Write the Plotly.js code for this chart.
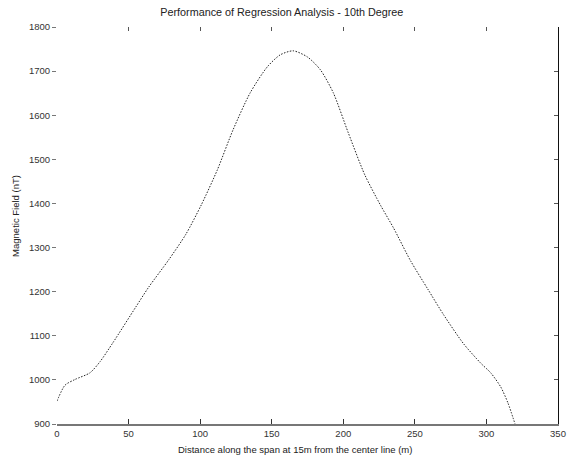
<!DOCTYPE html>
<html>
<head>
<meta charset="utf-8">
<script src="https://cdn.plot.ly/plotly-3.0.1.min.js"></script>
<style>html,body{margin:0;padding:0;background:#fff;}#chart{width:567px;height:456px;}</style>
</head>
<body>
<div id="chart"></div>
<script>
const distance = [0, 5.6, 12.6, 23, 30, 39, 55, 64, 78, 90, 101, 112, 123, 135, 147, 156, 165, 175, 184, 193, 203.5, 215, 226, 235, 247, 259, 270, 284, 296, 303, 310, 315, 320];
const field = [952, 988, 1001, 1016, 1041, 1084, 1165, 1210, 1272, 1330, 1398, 1476, 1567, 1651, 1710, 1737, 1746, 1732, 1703, 1651, 1560, 1465, 1396, 1345, 1270, 1206, 1148, 1082, 1038, 1016, 984, 948, 900];
const xTicks = [0, 50, 100, 150, 200, 250, 300, 350];
const yTicks = [900, 1000, 1100, 1200, 1300, 1400, 1500, 1600, 1700, 1800];

const trace = {
  x: distance, y: field, type: 'scatter', mode: 'lines',
  line: {color: '#222', width: 1, dash: '1.5px,1.5px', shape: 'spline', smoothing: 0.7},
  hoverinfo: 'skip', showlegend: false
};

const fam = 'Liberation Sans, Arial, sans-serif';
const layout = {
  width: 567, height: 456,
  margin: {l: 57, r: 9, t: 27, b: 32},
  paper_bgcolor: '#fff', plot_bgcolor: '#fff',
  font: {family: fam, size: 9.5, color: '#333'},
  title: {text: 'Performance of Regression Analysis - 10th Degree', x: 0.497, xanchor: 'center', y: 0.974, yanchor: 'middle', font: {family: fam, size: 10.8, color: '#222'}},
  xaxis: {
    range: [0, 350], tickvals: xTicks, ticktext: xTicks.map(String),
    showgrid: false, zeroline: false, showline: true, linecolor: '#777', linewidth: 1.5,
    ticks: 'inside', ticklen: 5, tickcolor: '#333'
  },
  xaxis2: {
    range: [0, 350], tickvals: xTicks, overlaying: 'x', side: 'top', anchor: 'y',
    showgrid: false, zeroline: false, showline: false, showticklabels: false,
    ticks: 'inside', ticklen: 4, tickcolor: '#555'
  },
  yaxis: {
    range: [900, 1800], tickvals: yTicks, ticktext: yTicks.map(String),
    showgrid: false, zeroline: false, showline: false,
    ticks: 'outside', ticklen: 4, tickcolor: '#777'
  },
  yaxis2: {
    range: [900, 1800], tickvals: yTicks, overlaying: 'y', side: 'right', anchor: 'x',
    showgrid: false, zeroline: false, showline: true, linecolor: '#111', linewidth: 1,
    showticklabels: false, ticks: 'inside', ticklen: 4, tickcolor: '#555'
  },
  annotations: [
    {text: 'Distance along the span at 15m from the center line (m)', xref: 'paper', yref: 'paper', x: 0.475, y: -0.063, xanchor: 'center', yanchor: 'middle', showarrow: false, font: {family: fam, size: 9.5, color: '#222'}},
    {text: 'Magnetic Field (nT)', xref: 'paper', yref: 'paper', x: -0.082, y: 0.524, xanchor: 'center', yanchor: 'middle', textangle: -90, showarrow: false, font: {family: fam, size: 9.5, color: '#222'}}
  ]
};
const dummyTop = {x: [0], y: [900], xaxis: 'x2', yaxis: 'y', mode: 'markers', marker: {opacity: 0}, hoverinfo: 'skip', showlegend: false};
const dummyRight = {x: [0], y: [900], xaxis: 'x', yaxis: 'y2', mode: 'markers', marker: {opacity: 0}, hoverinfo: 'skip', showlegend: false};
Plotly.newPlot('chart', [trace, dummyTop, dummyRight], layout, {displayModeBar: false, staticPlot: true});
</script>
</body>
</html>
